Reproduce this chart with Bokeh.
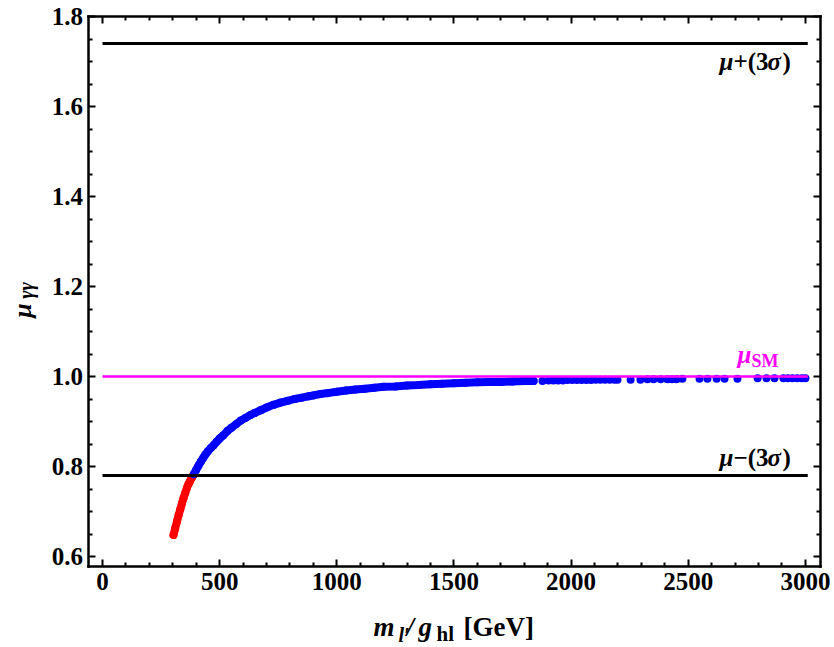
import math
from bokeh.plotting import figure
from bokeh.models import Label, LinearAxis, FixedTicker, PrintfTickFormatter, CustomJSTickFormatter, Range1d
from bokeh.embed import file_html
from bokeh.resources import INLINE

# ---------------- data ----------------
red_m = [303, 310, 318, 325, 332, 339, 346, 353, 360, 367, 374, 381, 388]
red_mu = [0.648, 0.662, 0.678, 0.692, 0.705, 0.718, 0.730, 0.741, 0.752, 0.761, 0.768, 0.775, 0.781]

blue_m = [390, 400, 410, 420, 431, 440, 450, 462, 474, 487, 500, 515, 533, 550, 570,
          590, 610, 630, 650, 675, 700, 730, 760, 790, 820, 850, 880, 900, 930, 960,
          1000, 1040, 1080, 1120, 1160, 1200, 1250, 1300, 1350, 1400, 1450, 1500,
          1550, 1600, 1650, 1700, 1750, 1800, 1840]
blue_mu = [0.783, 0.793, 0.802, 0.811, 0.820, 0.827, 0.834, 0.841, 0.847, 0.855, 0.862,
           0.869, 0.879, 0.886, 0.894, 0.902, 0.908, 0.914, 0.919, 0.925, 0.931, 0.937,
           0.942, 0.946, 0.950, 0.953, 0.956, 0.958, 0.961, 0.963, 0.966, 0.969, 0.971,
           0.973, 0.975, 0.977, 0.978, 0.980, 0.981, 0.983, 0.984, 0.985, 0.986, 0.987,
           0.988, 0.988, 0.989, 0.990, 0.990]

sparse_m = [1878, 1904, 1925, 1945, 1965, 1985, 2005, 2025, 2045, 2065, 2085, 2105,
            2125, 2145, 2165, 2185, 2198, 2254, 2296, 2326, 2352, 2382, 2411, 2430,
            2450, 2475, 2548, 2582, 2621, 2655, 2710, 2796, 2834, 2868, 2906, 2925,
            2945, 2965, 2985, 3000]
sparse_mu = [0.990, 0.991, 0.991, 0.991, 0.991, 0.992, 0.992, 0.992, 0.992, 0.992,
             0.992, 0.993, 0.993, 0.993, 0.993, 0.993, 0.993, 0.993, 0.993, 0.994,
             0.994, 0.994, 0.994, 0.994, 0.994, 0.995, 0.995, 0.995, 0.995, 0.995,
             0.995, 0.996, 0.996, 0.996, 0.996, 0.996, 0.996, 0.996, 0.996, 0.996]

line_x = [0, 3010]
mu_plus = 1.74
mu_sm = 1.0
mu_minus = 0.78

x_major = [0, 500, 1000, 1500, 2000, 2500, 3000]
x_minor = [v for v in range(0, 3001, 100) if v % 500 != 0]
y_major = [0.6, 0.8, 1.0, 1.2, 1.4, 1.6, 1.8]
y_minor = [round(0.6 + 0.05 * i, 2) for i in range(25) if i % 4 != 0]

# ---------------- page <-> data helpers (reference pixel positions) ----------------
SX = 0.2343   # px per GeV  (m=0 at px 102)
SY = 450.0    # px per unit of mu (mu=0.6 at px 556)


def mx(px):
    return (px - 102) / SX


def my(py):
    return 0.6 + (556 - py) / SY


# plot box (data limits of the framed area)
X_LO, X_HI = mx(87.5), mx(819.5)
Y_LO, Y_HI = my(565.5), 1.8

FONT = "Liberation Serif"
W, H = 834, 647

# frame covers the whole canvas; the visible box is drawn by fixed-location axes
p = figure(width=W, height=H, output_backend="svg", toolbar_location=None,
           x_range=Range1d(mx(0), mx(W)), y_range=Range1d(my(H), my(0)),
           x_axis_location=None, y_axis_location=None,
           min_border_left=0, min_border_right=0, min_border_top=0, min_border_bottom=0)
p.background_fill_color = "white"
p.border_fill_color = "white"
p.outline_line_color = None
p.xgrid.visible = False
p.ygrid.visible = False


def make_axis(side, loc, bounds, ticks, minor, labels=True, fmt=None, standoff=5):
    ax = LinearAxis(fixed_location=loc, bounds=bounds)
    ax.ticker = FixedTicker(ticks=ticks, minor_ticks=minor)
    ax.axis_line_width = 2.5
    ax.axis_line_color = "black"
    ax.axis_line_cap = "square"
    ax.major_tick_in = 7
    ax.major_tick_out = 0
    ax.minor_tick_in = 4
    ax.minor_tick_out = 0
    ax.major_tick_line_width = 2
    ax.minor_tick_line_width = 2
    ax.major_tick_line_color = "black"
    ax.minor_tick_line_color = "black"
    if labels:
        ax.major_label_text_font = FONT
        ax.major_label_text_font_style = "bold"
        ax.major_label_text_font_size = "25px"
        ax.major_label_text_color = "black"
        ax.major_label_standoff = standoff
        if fmt is not None:
            ax.formatter = fmt
    else:
        ax.formatter = CustomJSTickFormatter(code="return ''")
        ax.major_label_text_font_size = "1px"
        ax.major_label_standoff = 0
    p.add_layout(ax, side)
    return ax


make_axis("below", Y_LO, (X_LO, X_HI), x_major, x_minor, standoff=7)
make_axis("left", X_LO, (Y_LO, Y_HI), y_major, y_minor,
          fmt=PrintfTickFormatter(format="%.1f"), standoff=5)
make_axis("above", Y_HI, (X_LO, X_HI), x_major, x_minor, labels=False)
make_axis("right", X_HI, (Y_LO, Y_HI), y_major, y_minor, labels=False)

# ---------------- data marks ----------------
p.line(red_m, red_mu, line_width=8, line_color="#FF0000", line_join="round", line_cap="round")
p.scatter(red_m, red_mu, marker="circle", size=8, fill_color="#FF0000", line_color=None)
p.line(blue_m, blue_mu, line_width=8, line_color="#0000FF", line_join="round", line_cap="round")
p.scatter(blue_m, blue_mu, marker="circle", size=8, fill_color="#0000FF", line_color=None)
p.scatter(sparse_m, sparse_mu, marker="circle", size=8, fill_color="#0000FF", line_color=None)

p.line(line_x, [mu_plus, mu_plus], line_width=3, line_color="black")
p.line(line_x, [mu_minus, mu_minus], line_width=3, line_color="black")
p.line(line_x, [mu_sm, mu_sm], line_width=2.5, line_color="#FF00FF")


# ---------------- texts ----------------
SHIFT = 0.3  # empirical correction (in em) of the alphabetic baseline


def lab(px, py, text, size, style="bold", color="black", x_offset=0):
    """Label whose visual baseline starts at page pixel (px, py)."""
    p.add_layout(Label(x=mx(px), y=my(py - SHIFT * size), text=text, text_font=FONT,
                       text_font_size=f"{size}px", text_font_style=style, text_color=color,
                       text_align="left", text_baseline="alphabetic", x_offset=x_offset))


def vlab(px, py, text, size, style="bold italic"):
    p.add_layout(Label(x=mx(px), y=my(py), text=text, text_font=FONT,
                       text_font_size=f"{size}px", text_font_style=style, text_color="black",
                       angle=math.pi / 2, text_align="center", text_baseline="middle"))


# x axis title: m_{l'}/g_{hl} [GeV]
lab(373, 635, "m", 27, "bold italic")
lab(398, 640, "l′", 20, "bold italic")
lab(406, 635, "/", 27, "bold italic")
lab(418, 635, "g", 27, "bold italic")
lab(436, 640, "hl", 21, "bold")
lab(463, 635, "[GeV]", 27, "bold")

# y axis title: mu_{gamma gamma}
vlab(22, 310, "μ", 26)
vlab(25, 290, "γγ", 20)

# mu +/- (3 sigma)
for base, sign in ((mu_plus, "+(3"), (mu_minus, "−(3")):
    py_line = 556 - (base - 0.6) * SY
    py = py_line + 25 if sign.startswith("+") else py_line - 11
    lab(719, py, "μ", 25, "bold italic")
    lab(719, py, sign, 25, "bold", x_offset=14)
    lab(719, py, "σ", 25, "bold italic", x_offset=48)
    lab(719, py, ")", 25, "bold", x_offset=63)

# mu_SM
py_sm = 556 - (mu_sm - 0.6) * SY
lab(737, py_sm - 14.7, "μ", 25, "bold italic", color="#FF00FF")
lab(751, py_sm - 9.7, "SM", 18, "bold", color="#FF00FF")

open("out.html", "w").write(file_html(p, INLINE))
